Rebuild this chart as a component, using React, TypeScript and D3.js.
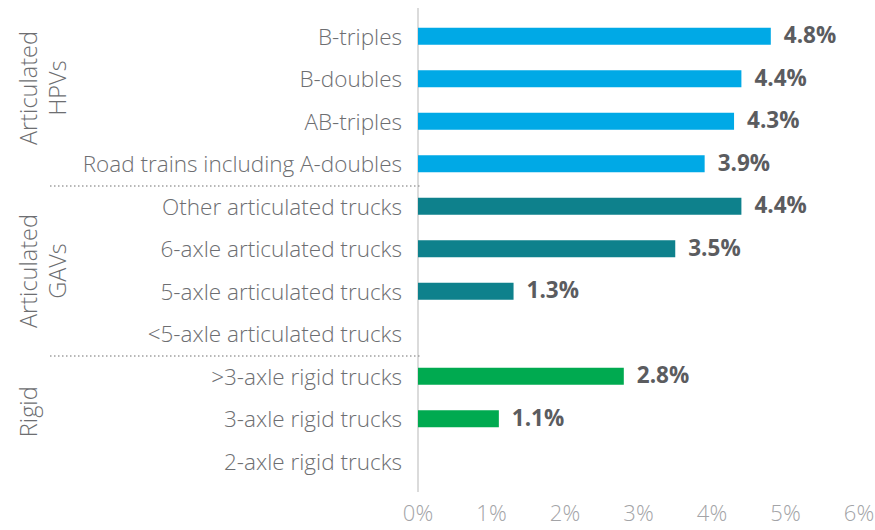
import React from "react";
import * as d3 from "d3";

const categories = [
  "B-triples",
  "B-doubles",
  "AB-triples",
  "Road trains including A-doubles",
  "Other articulated trucks",
  "6-axle articulated trucks",
  "5-axle articulated trucks",
  "<5-axle articulated trucks",
  ">3-axle rigid trucks",
  "3-axle rigid trucks",
  "2-axle rigid trucks",
];
const values: (number | null)[] = [4.8, 4.4, 4.3, 3.9, 4.4, 3.5, 1.3, null, 2.8, 1.1, null];
const groupOf = ["HPV", "HPV", "HPV", "HPV", "GAV", "GAV", "GAV", "GAV", "RIG", "RIG", "RIG"];
const groups = [
  { key: "HPV", lines: ["Articulated", "HPVs"], first: 0, last: 3 },
  { key: "GAV", lines: ["Articulated", "GAVs"], first: 4, last: 7 },
  { key: "RIG", lines: ["Rigid"], first: 8, last: 10 },
];
const ticks = [0, 1, 2, 3, 4, 5, 6];

const colors: Record<string, string> = { HPV: "#00A9E6", GAV: "#0E818C", RIG: "#00AA50" };
const groupLabelDy: Record<string, number> = { HPV: -12, GAV: 1, RIG: -7 };

const W = 875;
const H = 530;
const FONT = "'Open Sans', 'Noto Sans', sans-serif";

export default function App() {
  const x = d3.scaleLinear().domain([0, 6]).range([418, 859]);
  const y = d3
    .scaleBand<string>()
    .domain(categories)
    .range([15, 482.5])
    .paddingInner(0.6)
    .paddingOuter(0.3);
  const bw = y.bandwidth();
  const step = y.step();
  const center = (i: number) => (y(categories[i]) as number) + bw / 2;
  const separators = [3, 7].map((i) => center(i) + step / 2 + 1);

  return (
    <svg width={W} height={H} style={{ position: "absolute", left: 0, top: 0 }} fontFamily={FONT}>
      <rect width={W} height={H} fill="#ffffff" />
      {/* axis line */}
      <line x1={x(0)} x2={x(0)} y1={8} y2={492} stroke="#cfcfcf" strokeWidth={1.5} />
      {/* separators */}
      {separators.map((s, i) => (
        <line key={i} x1={50} x2={420} y1={s} y2={s} stroke="#a0a0a0" strokeWidth={1.5} strokeDasharray="1.5 2.5" />
      ))}
      {/* bars */}
      {categories.map((c, i) => {
        const v = values[i];
        if (v == null) return null;
        return (
          <rect
            key={c}
            x={x(0)}
            y={y(c)}
            width={x(v) - x(0)}
            height={bw}
            fill={colors[groupOf[i]]}
          />
        );
      })}
      {/* value labels */}
      {categories.map((c, i) => {
        const v = values[i];
        if (v == null) return null;
        return (
          <text
            key={"v" + c}
            x={x(v) + 13}
            y={center(i)}
            dy="0.31em"
            fontSize={22.5}
            fontWeight={700}
            fill="#5b5c5f"
          >
            {v.toFixed(1) + "%"}
          </text>
        );
      })}
      {/* category labels */}
      {categories.map((c, i) => (
        <text
          key={"c" + c}
          x={402}
          y={center(i)}
          dy="0.38em"
          textAnchor="end"
          fontSize={22.5}
          fontWeight={300}
          fill="#6d6e71"
        >
          {c}
        </text>
      ))}
      {/* group labels */}
      {groups.map((g) => {
        const cy = (center(g.first) + center(g.last)) / 2 + groupLabelDy[g.key];
        return (
          <text
            key={g.key}
            transform={`translate(37,${cy}) rotate(-90)`}
            textAnchor="middle"
            fontSize={23.5}
            fontWeight={300}
            fill="#6d6e71"
          >
            {g.lines.map((l, j) => (
              <tspan key={j} x={0} dy={j === 0 ? 0 : 29}>
                {l}
              </tspan>
            ))}
          </text>
        );
      })}
      {/* tick labels */}
      {ticks.map((t) => (
        <text key={"t" + t} x={x(t)} y={521} textAnchor="middle" fontSize={22} fontWeight={300} fill="#a3a4a7">
          {t + "%"}
        </text>
      ))}
    </svg>
  );
}
